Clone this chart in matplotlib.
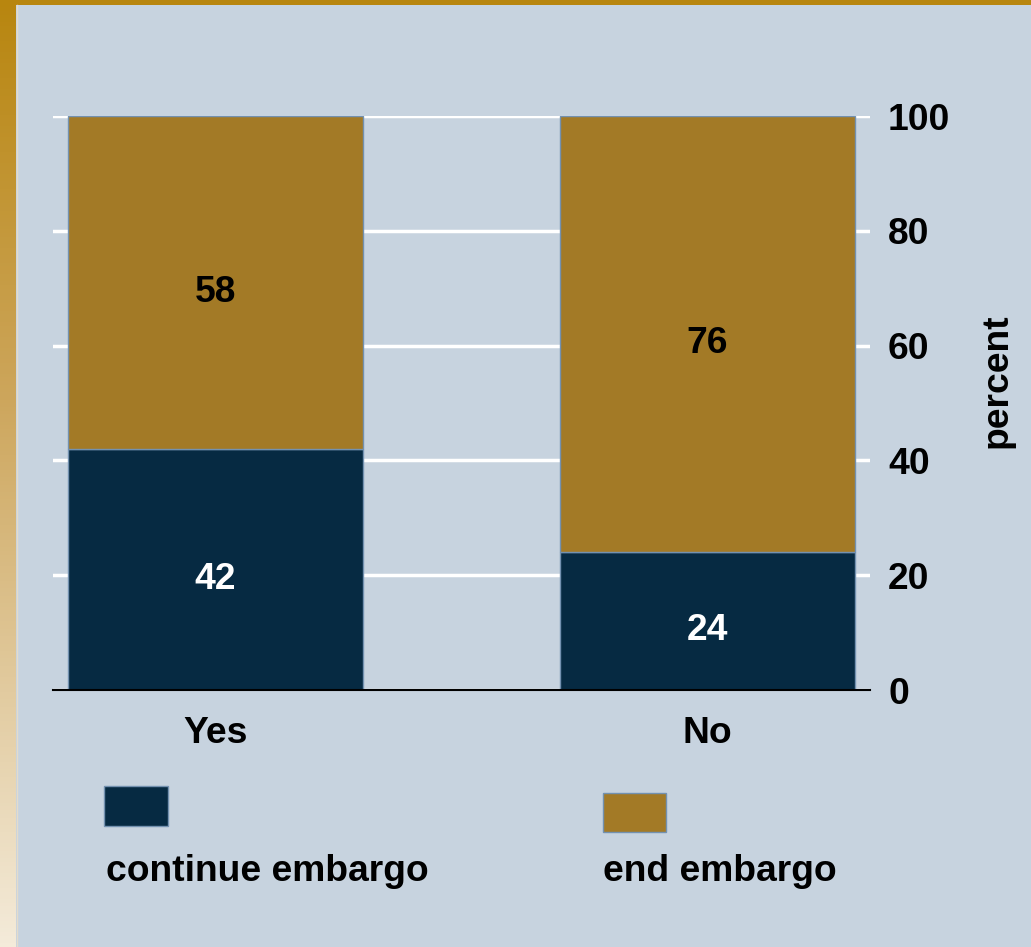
import numpy as np
import matplotlib
matplotlib.use('Agg')
import matplotlib.pyplot as plt
from matplotlib.patches import Rectangle


groups = ['Yes', 'No']
continue_embargo = [42, 24]
end_embargo = [58, 76]
legend_labels = ['continue embargo', 'end embargo']
y_ticks = [0, 20, 40, 60, 80, 100]

NAVY = '#062A42'
GOLD = '#A37A26'
PANEL = '#C7D3DF'
EDGE = '#7391B0'

plt.rcParams['font.family'] = ['Liberation Sans', 'DejaVu Sans']
plt.rcParams['font.weight'] = 'bold'
FS = 26.8

W, H = 1031, 947
fig = plt.figure(figsize=(W / 100, H / 100), dpi=100)
fig.patch.set_facecolor(PANEL)

# gold frame: top strip and left gradient strip
bg = fig.add_axes([0, 0, 1, 1], zorder=-10)
bg.set_xlim(0, W)
bg.set_ylim(H, 0)
bg.axis('off')
stops = [0.0, 0.42, 1.0]
rgb = np.array([[184, 134, 15], [205, 166, 92], [244, 235, 218]]) / 255
t = np.linspace(0, 1, 256)
grad = np.stack([np.interp(t, stops, rgb[:, i]) for i in range(3)], axis=1)
bg.imshow(grad[:, None, :], extent=[0, 16, H, 0], aspect='auto')
bg.add_patch(Rectangle((0, 0), W, 5, color='#B8860F', lw=0))
bg.plot([16.5, 16.5], [5, H], color='#E4DCCB', lw=1)

ax = fig.add_axes([53 / W, 257 / H, 817 / W, 574 / H])
ax.set_facecolor('none')
x = np.arange(len(groups))
width = 0.6
ax.bar(x, continue_embargo, width, color=NAVY, edgecolor=EDGE, linewidth=1, zorder=3)
ax.bar(x, end_embargo, width, bottom=continue_embargo, color=GOLD, edgecolor=EDGE,
       linewidth=1, zorder=3)

for i in range(len(groups)):
    ax.annotate(str(continue_embargo[i]), (x[i], continue_embargo[i] / 2),
                xytext=(0, -7), textcoords='offset points',
                ha='center', va='center', color='white', fontsize=FS, fontweight='bold', zorder=4)
    ax.annotate(str(end_embargo[i]), (x[i], continue_embargo[i] + end_embargo[i] / 2),
                xytext=(0, -7), textcoords='offset points',
                ha='center', va='center', color='black', fontsize=FS, fontweight='bold', zorder=4)

ax.set_xlim(-0.33, 1.33)
ax.set_ylim(0, 100)
ax.set_yticks(y_ticks)
ax.set_xticks(x)
ax.set_xticklabels(groups)
ax.yaxis.tick_right()
ax.yaxis.set_label_position('right')
ax.grid(axis='y', color='white', linewidth=2.5, zorder=0)
ax.tick_params(axis='both', length=0, labelsize=FS)
ax.tick_params(axis='y', pad=13)
ax.tick_params(axis='x', pad=19)
for lab in ax.get_xticklabels() + ax.get_yticklabels():
    lab.set_fontweight('bold')
for s in ['top', 'left', 'right']:
    ax.spines[s].set_visible(False)
ax.spines['bottom'].set_color('black')
ax.spines['bottom'].set_linewidth(1.5)
ax.spines['bottom'].set_zorder(5)

fig.text(997 / W, 1 - 381 / H, 'percent', rotation=90, ha='center', va='center',
         fontsize=FS, fontweight='bold')

# legend drawn by hand, swatch above its label
fig.add_artist(Rectangle((104 / W, 121 / H), 64 / W, 40 / H, transform=fig.transFigure,
                         facecolor=NAVY, edgecolor=EDGE, lw=1))
fig.add_artist(Rectangle((603 / W, 115 / H), 63 / W, 39 / H, transform=fig.transFigure,
                         facecolor=GOLD, edgecolor=EDGE, lw=1))
fig.text(106 / W, 1 - 881 / H, legend_labels[0], ha='left', va='baseline',
         fontsize=FS, fontweight='bold')
fig.text(603 / W, 1 - 881 / H, legend_labels[1], ha='left', va='baseline',
         fontsize=FS, fontweight='bold')

fig.savefig('out.png', dpi=100, facecolor=fig.get_facecolor())
